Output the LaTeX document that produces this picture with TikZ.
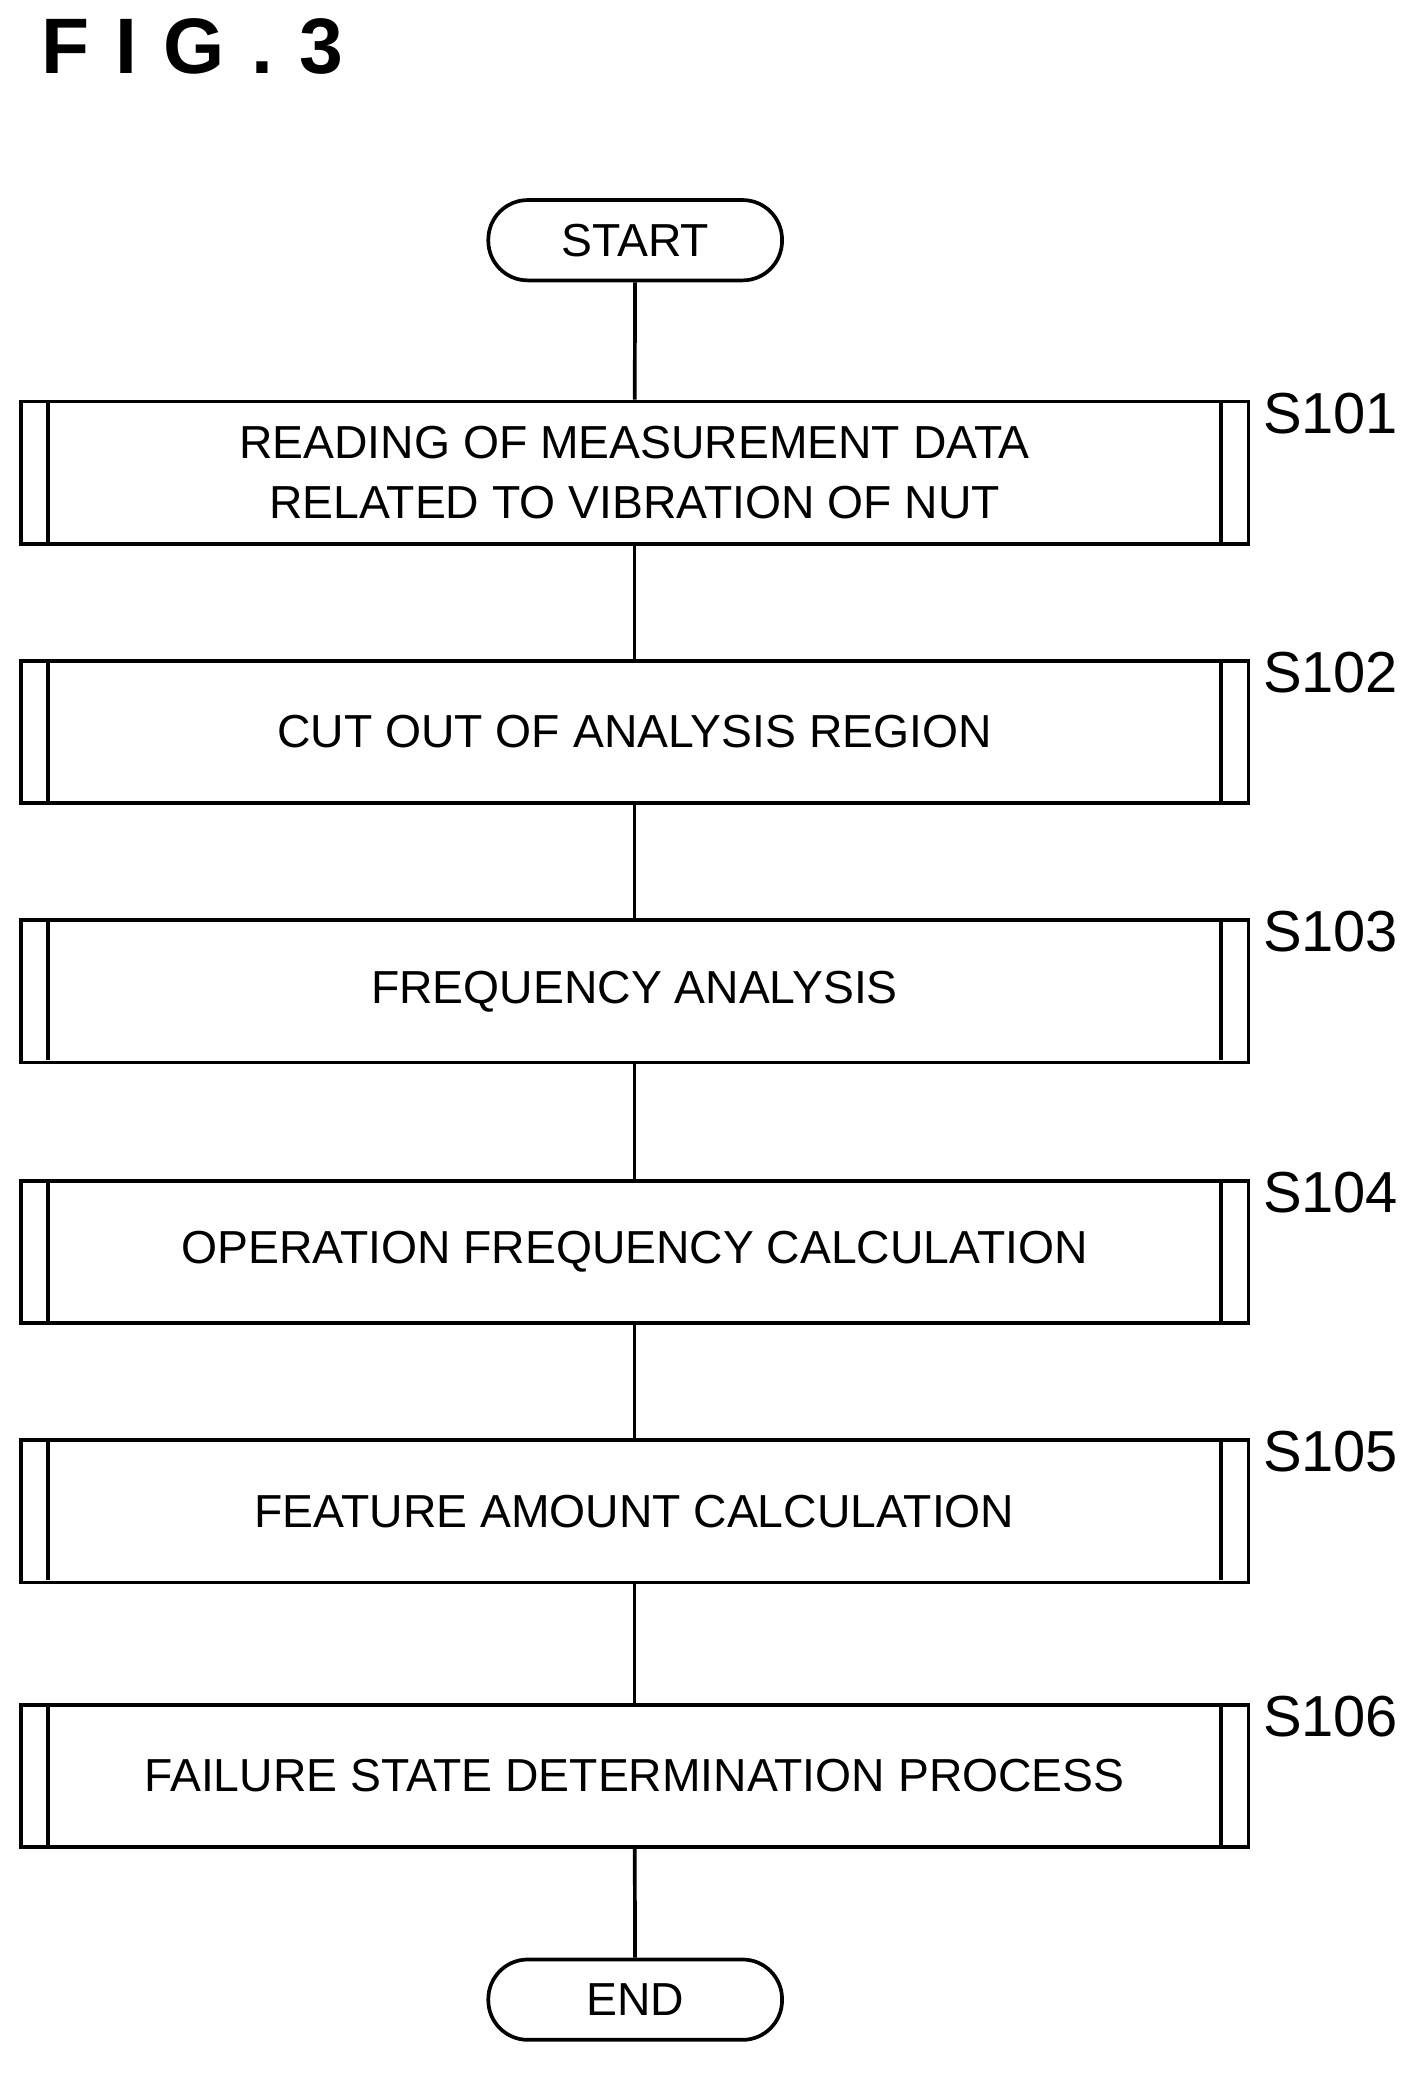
\documentclass[tikz,border=0pt]{standalone}
\usepackage{fontspec}
\setmainfont{Liberation Sans}
\begin{document}
\begin{tikzpicture}[x=0.01cm,y=-0.01cm,
  line width=0.8pt,
  txt/.style={font=\fontsize{10}{13}\selectfont, align=center},
  term/.style={draw, rounded corners=0.3cm, minimum width=2.23cm, minimum height=0.61cm, txt},
  proc/.style={draw, minimum width=9.32cm, minimum height=1.08cm, txt},
  lab/.style={anchor=north west, inner sep=0pt, font=\fontsize{12.5}{14}\selectfont}]
\useasboundingbox (0,0) rectangle (1080,1577);
\node[anchor=west, inner sep=0pt, font=\fontsize{17}{20}\selectfont\bfseries] (fig) at (30,35) {F\,\,I\,\,G\,\,.\,\,3};
\node[term] (st) at (482.5,182.5) {START};
\foreach \n/\y/\t in {1/359/{READING OF MEASUREMENT DATA\\RELATED TO VIBRATION OF NUT},
                      2/556/{CUT OUT OF ANALYSIS REGION},
                      3/753/{FREQUENCY ANALYSIS},
                      4/951/{OPERATION FREQUENCY CALCULATION},
                      5/1148/{FEATURE AMOUNT CALCULATION},
                      6/1349/{FAILURE STATE DETERMINATION PROCESS}}{
  \node[proc] (b\n) at (482,\y) {\t};
  \draw (b\n.north west) ++(22,0) -- ++(0,108);
  \draw (b\n.north east) ++(-22,0) -- ++(0,108);
  \node[lab] (l\n) at (958,\y-62) {S10\n};
}
\node[term] (en) at (482.5,1519) {END};
\draw (st) -- (b1);
\draw (b1) -- (b2);
\draw (b2) -- (b3);
\draw (b3) -- (b4);
\draw (b4) -- (b5);
\draw (b5) -- (b6);
\draw (b6) -- (en);
\end{tikzpicture}
\end{document}
